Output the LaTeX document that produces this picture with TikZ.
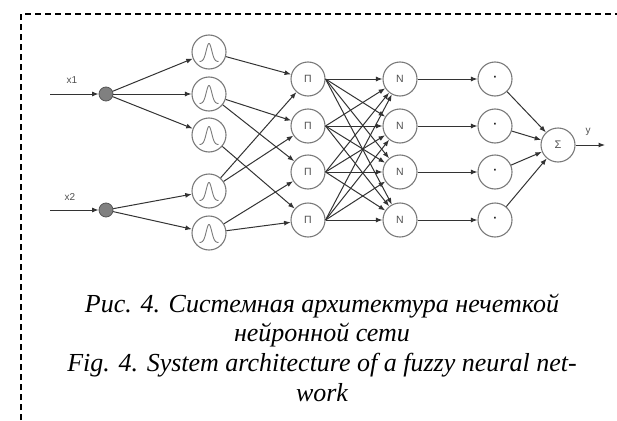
\documentclass[tikz,border=0pt]{standalone}
\usepackage{fontspec}
\setmainfont{Liberation Serif}
\newfontfamily\diagfont{Liberation Sans}
\usetikzlibrary{arrows.meta}
\definecolor{circgray}{HTML}{7A7A7A}
\definecolor{linegray}{HTML}{333333}
\definecolor{txtgray}{HTML}{505050}
\definecolor{dotfill}{HTML}{808080}
\definecolor{dotedge}{HTML}{555555}
\begin{document}
\begin{tikzpicture}[x=1pt,y=-1pt,
  frame/.style={draw=black, line width=1.4pt, dash pattern=on 6pt off 4pt},
  neuron/.style={circle, draw=circgray, fill=white, line width=1.1pt, minimum size=34pt, inner sep=0pt,
                 font=\diagfont\fontsize{10.5}{12}\selectfont, text=txtgray},
  gauss/.style={neuron, path picture={
      \draw[circgray, line width=0.9pt, shift={(path picture bounding box.center)}]
        plot[domain=-9.5:9.5, samples=60, smooth] ({\x},{9.5-18*exp(-(\x/3.9)^2)});}},
  indot/.style={circle, draw=dotedge, fill=dotfill, minimum size=14pt, inner sep=0pt, line width=0.8pt},
  conn/.style={draw=linegray, line width=1pt, -{Latex[length=6.5pt,width=5pt]}},
  lbl/.style={font=\diagfont\fontsize{10}{12}\selectfont, text=txtgray, inner sep=0pt},
  captext/.style={font=\itshape\fontsize{26}{29.7}\selectfont, anchor=base, inner sep=0pt}
]
\useasboundingbox (0,0) rectangle (617,420);
\draw[frame] (21,420) -- (21,14) -- (617,14);

% inputs
\coordinate (s1) at (50,94);
\coordinate (s2) at (50,210);
\node[indot] (in1) at (106,94) {};
\node[indot] (in2) at (106,210) {};
\node[lbl] (lx1) at (72,80) {x1};
\node[lbl] (lx2) at (70,197) {x2};

% membership layer
\node[gauss] (g1) at (209,52) {};
\node[gauss] (g2) at (209,94) {};
\node[gauss] (g3) at (209,135) {};
\node[gauss] (g4) at (209,191) {};
\node[gauss] (g5) at (209,233) {};

% rule layer
\foreach \i/\yy in {1/79,2/126,3/172,4/220}{
  \node[neuron] (p\i) at (308,\yy) {П};
  \node[neuron] (n\i) at (400,\yy) {N};
  \node[neuron, font=\diagfont\fontsize{16}{16}\selectfont, text=black] (d\i) at (495,\yy) {·};
}
\node[neuron, font=\diagfont\fontsize{11}{12}\selectfont] (sig) at (558,145) {Σ};
\coordinate (yout) at (605,145);
\node[lbl] (ly) at (588,132) {y};

% connections
\draw[conn] (s1) -- (in1);
\draw[conn] (s2) -- (in2);
\draw[conn] (in1) -- (g1);
\draw[conn] (in1) -- (g2);
\draw[conn] (in1) -- (g3);
\draw[conn] (in2) -- (g4);
\draw[conn] (in2) -- (g5);

\draw[conn] (g1) -- (p1);
\draw[conn] (g2) -- (p2);
\draw[conn] (g2) -- (p3);
\draw[conn] (g3) -- (p4);
\draw[conn] (g4) -- (p1);
\draw[conn] (g4) -- (p2);
\draw[conn] (g5) -- (p3);
\draw[conn] (g5) -- (p4);

\foreach \i in {1,...,4}{
  \foreach \j in {1,...,4}{
    \draw[conn] (p\i.east) -- (n\j);
  }
  \draw[conn] (n\i) -- (d\i);
  \draw[conn] (d\i) -- (sig);
}
\draw[conn] (sig) -- (yout);

% caption
\node[captext] (c1) at (322,312) {Рис. 4. Системная архитектура нечеткой};
\node[captext] (c2) at (322,341) {нейронной сети};
\node[captext] (c3) at (322,371) {Fig. 4. System architecture of a fuzzy neural net-};
\node[captext] (c4) at (322,401) {work};
\end{tikzpicture}
\end{document}
